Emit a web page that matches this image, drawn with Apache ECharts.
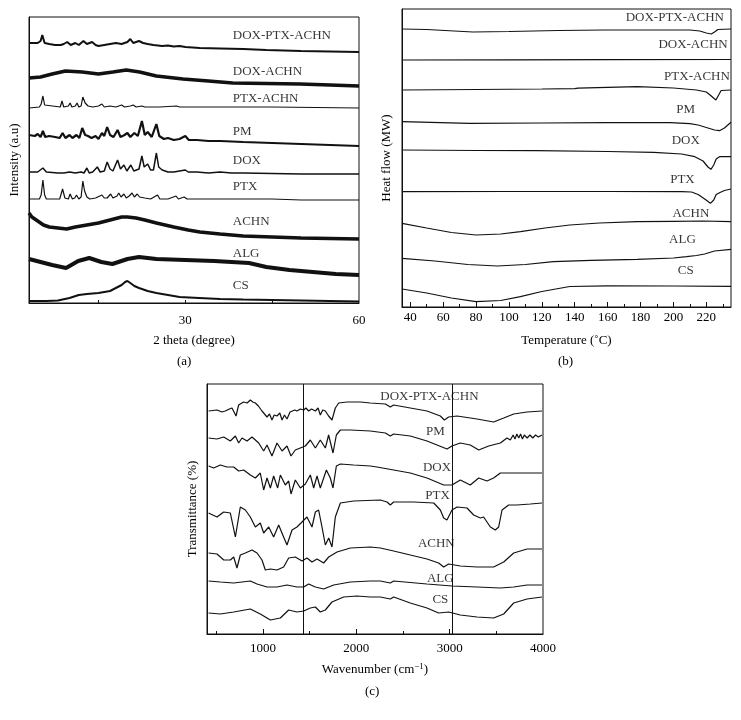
<!DOCTYPE html>
<html><head><meta charset="utf-8">
<script src="https://cdn.jsdelivr.net/npm/echarts@6/dist/echarts.min.js"></script>
<style>html,body{margin:0;padding:0;background:#fff}#c{width:741px;height:720px}</style>
</head><body><div id="c"></div>
<script>
// ---------- (a) XRD : 2 theta (degree) vs stacked intensity (a.u.) ----------
const xrdDoxPtxAchn = [[3,260],[4.5,260],[5,262],[5.3,268],[5.7,260],[6.5,259],[7.5,258],[8.5,258],[9,259],[9.6,261],[10.2,258],[11,260],[11.6,258],[12.4,262],[13,259],[13.9,261],[14.5,258],[15,257],[16,258],[17,259],[18,260],[19,259],[20,261],[20.5,264],[21,260],[22,262],[22.7,260],[23.5,259],[24.5,258],[26,257],[27,257.5],[28,256.5],[29,257],[30,256],[32.5,255],[36,254.5],[40,254],[44,253],[50,252],[55,251.5],[60,251]];
const xrdDoxAchn = [[3,225],[5,226],[7,229],[9.3,232],[12.2,231],[15,229],[17.5,231],[19.8,233],[22.1,231],[25,227],[29.6,224],[34,222],[38.2,220],[44,219.5],[49.8,219],[55,218],[60,217]];
const xrdPtxAchn = [[3,195],[4.8,196],[5.1,199],[5.4,207],[5.7,198],[6,196],[8.4,196],[8.7,202],[9,196],[9.8,197],[10.1,200],[10.4,196],[11,197],[11.3,200],[11.6,196],[12,197],[12.3,206],[12.7,200],[13.2,197],[14,196],[15,197],[15.6,199],[16,196],[17,197],[18,196],[19,198],[19.5,196],[20.5,197],[21,198],[21.5,196],[22.5,197],[23,196],[25,196],[25.3,198],[25.6,196],[28.5,197],[29,196],[35,196],[45,196],[60,195]];
const xrdPM = [[3,168],[4,167],[4.5,169],[5,166],[5.4,172],[5.8,166],[6.5,167],[7.5,166],[8.3,165],[8.8,170],[9.3,165],[10,168],[10.5,165],[11.2,168],[11.7,165],[12.2,175],[12.7,168],[13.2,167],[13.8,165],[14.5,167],[15,164],[15.6,170],[16,167],[16.5,176],[17,168],[17.6,166],[18.3,173],[18.8,166],[19.5,168],[20,170],[20.5,166],[21.2,170],[21.8,167],[22.5,182],[23,168],[23.5,171],[24.2,166],[25,179],[25.5,167],[26.3,164],[27,165],[28,163],[29,164],[30,167],[30.6,163],[32,163],[34,162],[36,162],[40,161],[45,160],[50,159],[55,158],[60,157]];
const xrdDOX = [[3,131],[4.5,131],[5.4,135],[6,131],[8,130],[9,130],[10,131],[11,130],[12,131],[12.5,130],[13,135],[13.4,130],[14,131],[14.8,136],[15.3,131],[16,132],[16.5,141],[17,134],[17.5,132],[18.3,143],[18.8,134],[19.4,138],[19.9,132],[20.6,138],[21.1,132],[22,134],[22.5,147],[22.9,136],[23.5,139],[24,133],[24.5,133],[25,150],[25.4,136],[26,133],[27,131],[28,131],[30,133],[30.5,131],[32,131],[34,130],[36,131],[38,130],[40,130],[50,129],[60,129]];
const xrdPTX = [[3,104],[4.8,104],[5.1,108],[5.4,123],[5.7,108],[6,104],[8.3,104],[8.8,114],[9.2,105],[9.8,104],[10.1,109],[10.5,104],[10.9,105],[11.2,108],[11.6,104],[12,106],[12.3,122],[12.6,112],[13,106],[13.5,104],[14.5,105],[15.6,108],[16,105],[16.5,105],[17.1,109],[17.5,105],[18.2,107],[18.5,110],[18.9,106],[19.4,109],[19.8,105],[20.3,107],[20.8,110],[21.2,106],[21.7,109],[22.1,106],[23,105],[24,104],[25.2,108],[25.6,104],[27,104],[28.4,107],[28.8,104],[29.8,106],[30.3,104],[35,104],[40,104],[45,104],[50,103],[60,103]];
const xrdACHN = [[3,90],[3.5,86],[4.5,82],[5.5,78],[6.5,76],[8,75],[9.5,74],[11,76],[13,78],[15,80],[17,83],[19,86],[20,86],[21.5,85],[23,83],[25,80],[28,76],[30.5,73],[32.5,71],[36,69],[40,67],[45,66],[50,65],[55,64.5],[60,64]];
const xrdALG = [[3,44],[5,41],[7,38],[9.4,35],[11.5,42],[13.4,45],[15.5,41],[17.4,39],[20,44],[22,46],[25,44],[30,43],[35,42],[41,40],[44,36],[48,33],[52,31],[56,29],[60,28]];
const xrdCS = [[3,2],[6,2],[8,2.5],[10,5],[11.6,8],[13,9],[15,10],[17,12],[18,15],[19,18],[19.6,21],[20,22],[20.5,20],[21.2,17],[22,15],[23.5,12],[25,10],[27,8],[29,6],[32.4,5],[36,4],[40,3.5],[50,2.5],[60,1.5]];
const xrdLabels = [[38.2,267,'DOX-PTX-ACHN'],[38.2,231,'DOX-ACHN'],[38.2,204,'PTX-ACHN'],[38.2,171,'PM'],[38.2,142,'DOX'],[38.2,116,'PTX'],[38.2,81,'ACHN'],[38.2,49,'ALG'],[38.2,17,'CS']];
const xrdTickLabels = [30, 60];
const xrdTicks = [15, 30, 45];

// ---------- (b) DSC : temperature (°C) vs stacked heat flow ----------
const dscDoxPtxAchn = [[35,278],[50,277.5],[78,275],[100,275.5],[130,276.5],[158,277],[190,277],[210,277],[216,276],[220,274],[223,273],[225,275],[227,277.5],[235,278]];
const dscDoxAchn = [[35,247],[100,247.2],[160,247.3],[235,247.5]];
const dscPtxAchn = [[35,217],[80,217.5],[120,218],[140,218.3],[142,218.8],[178,220.3],[200,219],[214,217],[220,215],[223,211],[225.8,207],[227.5,212],[229,216.5],[235,217]];
const dscPM = [[35,185.3],[76,183.7],[120,184],[160,184.3],[198,184.3],[210,183.3],[215,182],[220,179.5],[225,177],[228,176.3],[231,179],[235,184.7]];
const dscDOX = [[35,157],[80,156.5],[117,156.3],[160,155.5],[188,154.7],[205,153],[213,150.3],[218,146],[221,140],[222.8,137.7],[224.5,142],[226,148],[228,150.3],[235,150.3]];
const dscPTX = [[35,115.3],[100,115.5],[160,115.5],[205,115.3],[211,115],[215,112.5],[219,108],[222.5,103.7],[224.5,107],[226,112.5],[228,114.3],[231,116.5],[235,118]];
const dscACHN = [[35,83.7],[50,79],[65,74.5],[80,72],[95,73],[107,75.3],[122,79],[137,82],[155,84],[178,85.3],[200,85.7],[218,86],[235,85.3]];
const dscALG = [[35,48.7],[55,46],[75,42.5],[93,41],[110,42.5],[127,45.3],[150,46.7],[178,47.7],[200,49],[208,50.3],[214,51.5],[219,53],[225,56],[235,57.7]];
const dscCS = [[35,18],[50,14],[65,9],[80,5.3],[95,6.5],[107,10.3],[120,15.5],[137,20.5],[160,21.2],[200,21],[235,20.7]];
const dscLabelsRight = [[230.7,289.7,'DOX-PTX-ACHN'],[233,262,'DOX-ACHN'],[234.3,230,'PTX-ACHN']];
const dscLabelsCenter = [[207.5,197,'PM'],[207.5,166,'DOX'],[205.5,127.7,'PTX'],[210.6,93.7,'ACHN'],[205.5,67,'ALG'],[207.5,36.3,'CS']];
const dscTickLabels = [40,60,80,100,120,140,160,180,200,220];
const dscMinorTicks = [50,70,90,110,130,150,170,190,210,230];

// ---------- (c) FTIR : wavenumber (cm-1) vs stacked transmittance ----------
const irDoxPtxAchn = [[417,223],[507,224],[560,222],[596,223],[640,225],[668,226],[711,218],[739,229],[792,232],[830,231],[864,234],[890,232],[918,231],[950,228],[989,223],[1043,217],[1070,220],[1096,214],[1120,219],[1150,218],[1180,221],[1204,214],[1230,219],[1257,215],[1290,222],[1311,221],[1340,224],[1364,223],[1400,225],[1436,224],[1460,226],[1489,223],[1520,225],[1561,223],[1590,226],[1614,219],[1640,224],[1668,223],[1703,218],[1739,214],[1775,226],[1811,231],[1900,232],[2043,232],[2150,231],[2311,230],[2364,227],[2400,229],[2578,226],[2757,223],[2900,218],[2943,214],[2989,217],[3079,218],[3293,215],[3471,212],[3579,216],[3686,220],[3829,222],[3989,223]];
const irPM = [[417,196],[507,195],[579,197],[650,193],[704,198],[739,191],[775,196],[829,193],[882,197],[954,191],[1007,183],[1043,189],[1096,178],[1150,191],[1204,183],[1257,188],[1300,178],[1346,184],[1400,186],[1454,188],[1507,194],[1561,186],[1614,194],[1668,186],[1703,199],[1750,181],[1786,199],[1829,204],[1936,204],[2150,203],[2311,201],[2364,198],[2400,200],[2578,198],[2757,193],[2918,187],[2971,185],[3025,188],[3114,191],[3221,189],[3311,184],[3418,188],[3543,191],[3614,196],[3650,194],[3680,199],[3700,195],[3720,200],[3740,196],[3760,200],[3780,195],[3800,199],[3830,196],[3860,199],[3890,196],[3920,199],[3950,197],[3989,199]];
const irDOX = [[417,168],[471,166],[543,169],[614,167],[686,167],[739,163],[793,164],[864,159],[918,156],[971,161],[1007,144],[1043,156],[1079,146],[1114,158],[1157,146],[1186,159],[1239,149],[1275,153],[1300,140],[1346,154],[1400,146],[1454,150],[1507,159],[1543,146],[1579,158],[1614,146],[1679,164],[1721,156],[1750,146],[1786,168],[1829,170],[1971,169],[2150,168],[2221,167],[2400,164],[2578,161],[2757,156],[2936,149],[3025,149],[3114,154],[3221,149],[3311,156],[3400,153],[3471,156],[3543,161],[3650,161],[3829,161],[3989,161]];
const irPTX = [[417,121],[507,117],[579,122],[650,121],[704,97],[757,127],[811,124],[864,117],[918,107],[971,111],[1007,101],[1061,107],[1114,97],[1168,109],[1221,97],[1257,89],[1311,104],[1364,107],[1407,111],[1471,117],[1525,107],[1561,122],[1596,124],[1632,107],[1668,89],[1704,96],[1739,87],[1775,117],[1829,131],[1971,133],[2257,134],[2329,132],[2364,129],[2400,132],[2614,132],[2829,131],[2900,124],[2936,116],[2971,114],[3025,124],[3079,127],[3186,126],[3257,119],[3329,116],[3364,117],[3436,107],[3489,104],[3525,107],[3561,124],[3632,129],[3721,129],[3864,130],[3989,131]];
const irACHN = [[417,81],[507,80],[579,74],[650,74],[686,77],[721,66],[757,79],[811,81],[882,84],[936,81],[989,74],[1025,64],[1079,65],[1150,64],[1221,67],[1275,76],[1346,77],[1418,73],[1471,76],[1525,72],[1579,75],[1650,71],[1704,77],[1793,82],[1936,86],[2150,87],[2257,86],[2400,83],[2578,79],[2757,75],[2882,71],[2936,67],[2989,70],[3114,68],[3293,67],[3471,67],[3579,72],[3686,81],[3829,85],[3989,85]];
const irALG = [[417,53],[543,52],[686,51],[864,53],[936,50],[1043,47],[1150,47],[1257,49],[1364,47],[1436,47],[1489,50],[1561,47],[1650,45],[1757,49],[1936,52],[2150,53],[2257,53],[2364,51],[2400,53],[2757,50],[3025,48],[3293,47],[3543,46],[3686,47],[3829,49],[3989,49]];
const irCS = [[417,21],[543,20],[686,22],[864,25],[971,20],[1079,14],[1186,16],[1275,24],[1364,22],[1436,23],[1507,26],[1561,27],[1614,22],[1668,24],[1739,32],[1864,37],[2007,38],[2150,37],[2257,37],[2364,35],[2400,37],[2578,31],[2757,26],[2882,21],[2989,22],[3114,19],[3293,17],[3471,16],[3579,20],[3686,31],[3829,35],[3989,37]];
const irMarkers = [1430, 3030];
const irLabels = [[2783,237.7,'DOX-PTX-ACHN'],[2846,202.7,'PM'],[2864,166.7,'DOX'],[2871,138.7,'PTX'],[2857,90.7,'ACHN'],[2900,55.7,'ALG'],[2900,34,'CS']];
const irTickLabels = [1000,2000,3000,4000];
const irMajorTicks = [1000,2000,3000];
const irMinorTicks = [500,1500,2500,3500];

// ---------- chart ----------
const FONT = 'Liberation Serif';
const INK = '#000';
const LINE = '#111';
const chart = echarts.init(document.getElementById('c'), null, {renderer:'canvas'});

function line(data, xi, yi, w) {
  return {type:'line', xAxisIndex:xi, yAxisIndex:yi, data:data, symbol:'none', showSymbol:false,
    lineStyle:{color:LINE, width:w}, silent:true, animation:false, z:2};
}
function labels(data, xi, yi, align) {
  return {type:'scatter', xAxisIndex:xi, yAxisIndex:yi, data:data, symbolSize:0, silent:true, animation:false, z:5,
    label:{show:true, position:'inside', align:align, verticalAlign:'middle', color:INK, fontFamily:FONT, fontSize:13,
      formatter:function(p){return p.data[2];}}};
}
function xAx(grid, min, max, ticks, tlen, labelVals, margin, name, gap, showLine) {
  return {type:'value', gridIndex:grid, min:min, max:max, position:'bottom',
    axisLine:{show:showLine, onZero:false, lineStyle:{color:LINE, width:1}},
    axisTick:{show:true, inside:true, length:tlen, customValues:ticks, lineStyle:{color:LINE}},
    axisLabel:{show:labelVals.length>0, customValues:labelVals, margin:margin, color:INK, fontFamily:FONT, fontSize:13,
      formatter:function(v){return String(v);}},
    splitLine:{show:false},
    name:name, nameLocation:'middle', nameGap:gap,
    nameTextStyle:{color:INK, fontFamily:FONT, fontSize:13, rich:{sup:{fontSize:9, verticalAlign:'top', padding:[0,0,6,0], fontFamily:FONT, color:INK}}}};
}
function yAx(grid, max, name, gap) {
  return {type:'value', gridIndex:grid, min:0, max:max,
    axisLine:{show:true, lineStyle:{color:LINE}}, axisTick:{show:false}, axisLabel:{show:false}, splitLine:{show:false},
    name:name, nameLocation:'middle', nameGap:gap, nameTextStyle:{color:INK, fontFamily:FONT, fontSize:13}};
}

const option = {
  backgroundColor:'#fff',
  animation:false,
  grid:[
    {left:29, top:17, width:330, height:286, show:true, borderColor:LINE, borderWidth:1},
    {left:402, top:9, width:329, height:298, show:true, borderColor:LINE, borderWidth:1},
    {left:207, top:384, width:336, height:250, show:true, borderColor:LINE, borderWidth:1}
  ],
  xAxis:[
    xAx(0, 3, 60, xrdTicks, 3, xrdTickLabels, 11, '2 theta (degree)', 31, true),
    xAx(1, 35, 235, dscTickLabels, 5, dscTickLabels, 4, 'Temperature (˚C)', 27, true),
    xAx(1, 35, 235, dscMinorTicks, 3, [], 4, '', 0, false),
    xAx(2, 400, 4000, irMajorTicks, 5, irTickLabels, 8, 'Wavenumber (cm{sup|−1})', 28, true),
    xAx(2, 400, 4000, irMinorTicks, 3, [], 8, '', 0, false)
  ],
  yAxis:[
    yAx(0, 286, 'Intensity (a.u)', 8),
    yAx(1, 298, 'Heat flow (MW)', 9),
    yAx(2, 250, 'Transmittance (%)', 8)
  ],
  graphic:[
    {type:'text', left:177, top:355, style:{text:'(a)', fill:INK, font:'13px "Liberation Serif"'}},
    {type:'text', left:558, top:355, style:{text:'(b)', fill:INK, font:'13px "Liberation Serif"'}},
    {type:'text', left:365, top:685, style:{text:'(c)', fill:INK, font:'13px "Liberation Serif"'}}
  ],
  series:[
    line(xrdDoxPtxAchn,0,0,2), line(xrdDoxAchn,0,0,3.5), line(xrdPtxAchn,0,0,1.2), line(xrdPM,0,0,2.2),
    line(xrdDOX,0,0,1.5), line(xrdPTX,0,0,1.2), line(xrdACHN,0,0,3.5), line(xrdALG,0,0,4), line(xrdCS,0,0,2),
    labels(xrdLabels,0,0,'left'),
    line(dscDoxPtxAchn,1,1,1.2), line(dscDoxAchn,1,1,1.2), line(dscPtxAchn,1,1,1.2), line(dscPM,1,1,1.2),
    line(dscDOX,1,1,1.2), line(dscPTX,1,1,1.2), line(dscACHN,1,1,1.2), line(dscALG,1,1,1.2), line(dscCS,1,1,1.2),
    labels(dscLabelsRight,1,1,'right'), labels(dscLabelsCenter,1,1,'center'),
    line(irDoxPtxAchn,3,2,1.2), line(irPM,3,2,1.2), line(irDOX,3,2,1.2), line(irPTX,3,2,1.2),
    line(irACHN,3,2,1.2), line(irALG,3,2,1.2),
    Object.assign(line(irCS,3,2,1.2), {markLine:{silent:true, symbol:'none', animation:false, label:{show:false},
      lineStyle:{color:LINE, width:1, type:'solid'}, data:irMarkers.map(function(v){return {xAxis:v};})}}),
    labels(irLabels,3,2,'center')
  ]
};
chart.setOption(option);
</script></body></html>
